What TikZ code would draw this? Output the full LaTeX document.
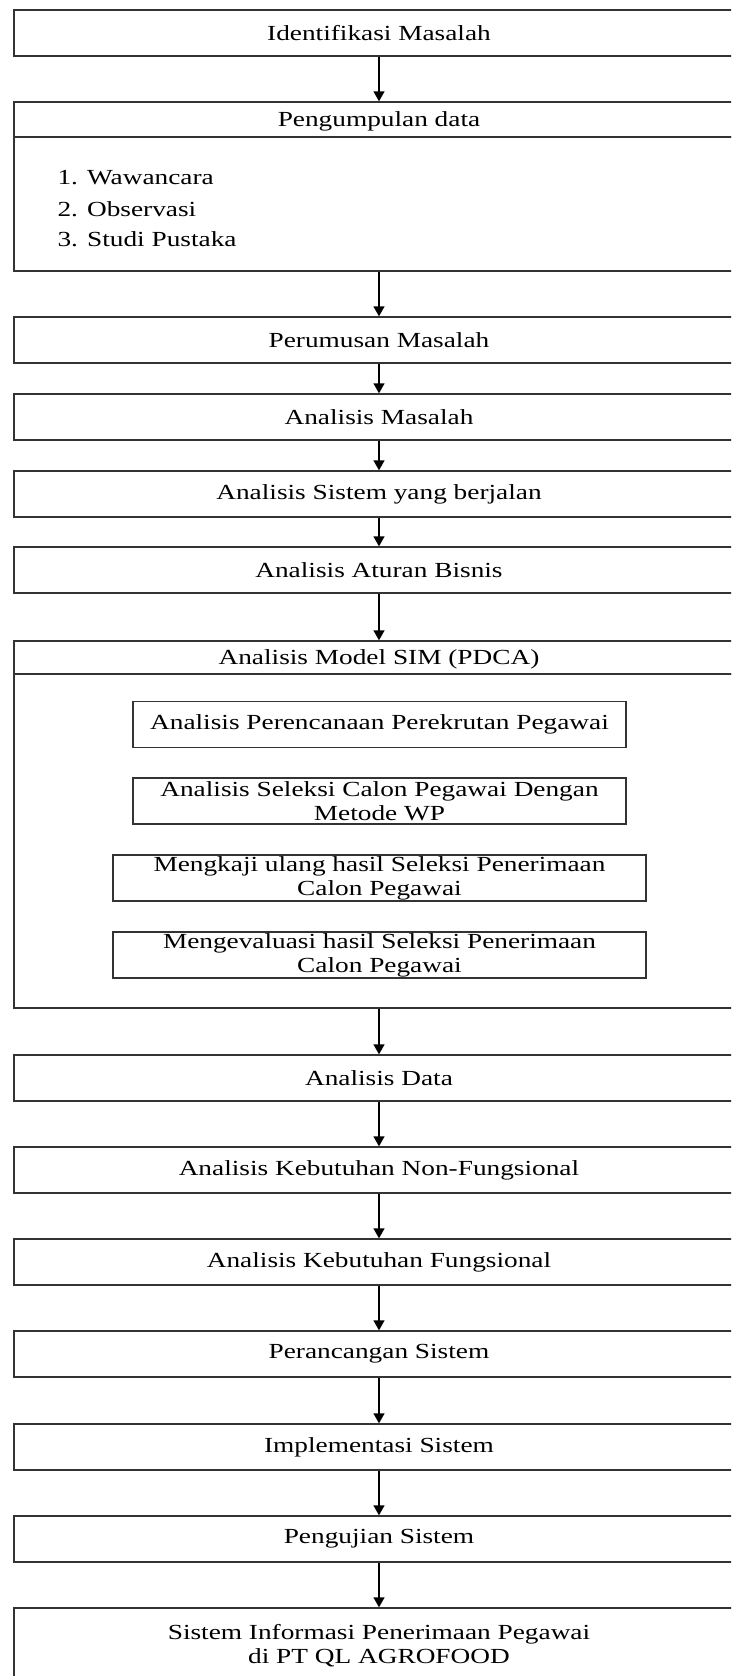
\documentclass[tikz,border=0pt]{standalone}
\usepackage{fontspec}
\setmainfont{Liberation Serif}[FakeStretch=1.27]
\usetikzlibrary{arrows.meta}

\tikzset{
  kotak/.style={draw=black!80, line width=1.4pt, minimum width=730pt, minimum height=46pt, inner sep=0pt},
  kotakjudul/.style={kotak, text depth=0pt},
  kotakdalam/.style={draw=black!80, line width=1.4pt, minimum height=46pt, inner sep=0pt, align=center},
  panah/.style={-{Triangle[length=10pt,width=11pt]}, line width=1.4pt},
}

\begin{document}
\begin{tikzpicture}[x=1pt, y=-1pt, font=\fontsize{21.5}{24}\selectfont]
  \useasboundingbox (0,0) rectangle (731,1676);
  \clip (0,0) rectangle (731,1676);   % right edge of the boxes is cut off
  \node[kotak] (identifikasi) at (379,33) {Identifikasi Masalah};
  % pengumpulan data: header and body
  \node[kotakjudul, minimum height=35pt] (kumpul) at (379,119.5) {Pengumpulan data};
  \node[kotak, minimum height=134pt] (kumpulisi) at (379,204) {};
  \node[anchor=west] (wawancara) at (54,178) {1. Wawancara};
  \node[anchor=west] (observasi) at (54,209) {2. Observasi};
  \node[anchor=west] (pustaka) at (54,239) {3. Studi Pustaka};
  \node[kotak] (perumusan) at (379,340) {Perumusan Masalah};
  \node[kotak] (masalah) at (379,417) {Analisis Masalah};
  \node[kotak] (sistem) at (379,494) {Analisis Sistem yang berjalan};
  \node[kotak] (aturan) at (379,570) {Analisis Aturan Bisnis};
  % model SIM (PDCA): header and body with four boxes
  \node[kotakjudul, minimum height=33pt] (pdca) at (379,657.5) {Analisis Model SIM (PDCA)};
  \node[kotak, minimum height=334pt] (pdcaisi) at (379,841) {};
  \node[kotakdalam, minimum width=493pt] (plan) at (379.5,724.5) {Analisis Perencanaan Perekrutan Pegawai};
  \node[kotakdalam, minimum width=493pt] (do) at (379.5,801) {Analisis Seleksi Calon Pegawai Dengan\\Metode WP};
  \node[kotakdalam, minimum width=533pt] (check) at (379.5,878) {Mengkaji ulang hasil Seleksi Penerimaan\\Calon Pegawai};
  \node[kotakdalam, minimum width=533pt] (act) at (379.5,955) {Mengevaluasi hasil Seleksi Penerimaan\\Calon Pegawai};
  \node[kotak] (data) at (379,1078) {Analisis Data};
  \node[kotak] (nonfungsi) at (379,1170) {Analisis Kebutuhan Non-Fungsional};
  \node[kotak] (fungsi) at (379,1262) {Analisis Kebutuhan Fungsional};
  \node[kotak] (rancang) at (379,1354) {Perancangan Sistem};
  \node[kotak] (implementasi) at (379,1447) {Implementasi Sistem};
  \node[kotak] (uji) at (379,1539) {Pengujian Sistem};
  \node[kotak, minimum height=92pt] (hasil) at (379,1654) {};
  \node[align=center] (hasilteks) at (379,1646) {Sistem Informasi Penerimaan Pegawai\\di PT QL AGROFOOD};
  % arrows
  \draw[panah] (identifikasi) -- (kumpul);
  \draw[panah] (kumpulisi) -- (perumusan);
  \draw[panah] (perumusan) -- (masalah);
  \draw[panah] (masalah) -- (sistem);
  \draw[panah] (sistem) -- (aturan);
  \draw[panah] (aturan) -- (pdca);
  \draw[panah] (pdcaisi) -- (data);
  \draw[panah] (data) -- (nonfungsi);
  \draw[panah] (nonfungsi) -- (fungsi);
  \draw[panah] (fungsi) -- (rancang);
  \draw[panah] (rancang) -- (implementasi);
  \draw[panah] (implementasi) -- (uji);
  \draw[panah] (uji) -- (hasil);
\end{tikzpicture}
\end{document}
